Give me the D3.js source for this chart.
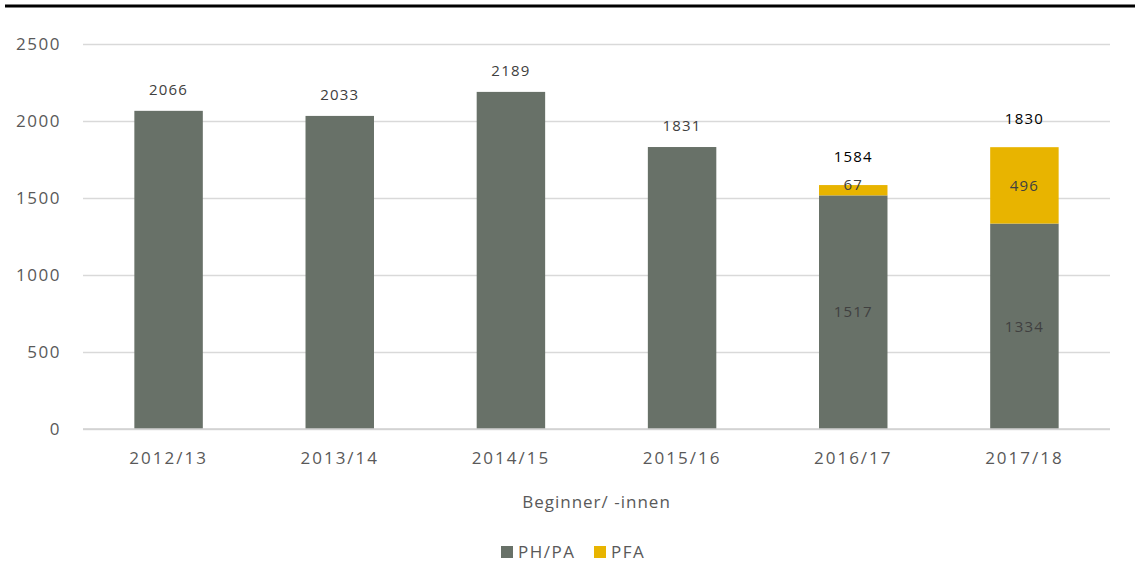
<!DOCTYPE html>
<html><head><meta charset="utf-8">
<script src="https://cdn.jsdelivr.net/npm/d3@7"></script>
<style>
body{margin:0;background:#fff;}
text{font-family:"Open Sans",sans-serif;}
</style></head>
<body><svg id="c" width="1135" height="563"></svg>
<script>
const categories = ["2012/13","2013/14","2014/15","2015/16","2016/17","2017/18"];
const phpa = [2066,2033,2189,1831,1517,1334];
const pfa = [0,0,0,0,67,496];
const totals = [2066,2033,2189,1831,1584,1830];
const yTicks = [0,500,1000,1500,2000,2500];
const seriesNames = ["PH/PA","PFA"];
const colors = ["#687168","#E8B400"];

(function(){
const svg = d3.select("#c");
const mL=83, mR=1110, mT=44, mB=429;
const x = d3.scaleBand().domain(categories).range([mL,mR]).paddingInner(0.6).paddingOuter(0.3);
const y = d3.scaleLinear().domain([0,2500]).range([mB,mT]);

svg.append("line").attr("x1",5).attr("x2",1135).attr("y1",6).attr("y2",6).attr("stroke","#000").attr("stroke-width",3);

const yAxis = d3.axisLeft(y).tickValues(yTicks).tickSize(-(mR-mL)).tickPadding(22).tickFormat(d3.format("d"));
const ga = svg.append("g").attr("transform",`translate(${mL},0)`).call(yAxis);
ga.select(".domain").remove();
ga.selectAll(".tick line").attr("stroke","#d9d9d9").attr("stroke-width",1.5);
ga.selectAll(".tick text").attr("fill","#595959").attr("font-size",17).attr("text-anchor","end").attr("x",-22).attr("dy","0.33em").style("letter-spacing","1.5px");

const stackData = categories.map((c,i)=>({cat:c,PHPA:phpa[i],PFA:pfa[i]}));
const stack = d3.stack().keys(["PHPA","PFA"])(stackData);
stack.forEach((s,si)=>{
  svg.append("g").selectAll("rect").data(s).join("rect")
    .attr("x",d=>x(d.data.cat)).attr("width",x.bandwidth())
    .attr("y",d=>y(d[1])).attr("height",d=>y(d[0])-y(d[1]))
    .attr("fill",colors[si]);
});

svg.append("g").selectAll("text").data(categories).join("text")
  .attr("x",d=>x(d)+x.bandwidth()/2)
  .attr("y",(d,i)=>y(totals[i]) - (pfa[i]>0 ? 28 : 21))
  .attr("dy","0.35em")
  .attr("text-anchor","middle").attr("font-size",15)
  .attr("fill",(d,i)=>pfa[i]>0?"#000":"#404040")
  .style("letter-spacing","1.2px")
  .text((d,i)=>totals[i]);

categories.forEach((c,i)=>{
  if(pfa[i]>0){
    svg.append("text").attr("x",x(c)+x.bandwidth()/2).attr("y",(y(0)+y(phpa[i]))/2).attr("dy","0.35em")
      .attr("text-anchor","middle").attr("font-size",15).attr("fill","#404040").style("letter-spacing","1.2px").text(phpa[i]);
    const my = pfa[i]<100 ? y(phpa[i]+pfa[i]) : (y(phpa[i])+y(phpa[i]+pfa[i]))/2;
    svg.append("text").attr("x",x(c)+x.bandwidth()/2).attr("y",my).attr("dy","0.35em")
      .attr("text-anchor","middle").attr("font-size",15).attr("fill","#404040").style("letter-spacing","1.2px").text(pfa[i]);
  }
});

svg.append("line").attr("x1",mL).attr("x2",mR).attr("y1",mB).attr("y2",mB).attr("stroke","#d0d0d0").attr("stroke-width",1.5);

const xAxis = d3.axisBottom(x).tickSize(0).tickPadding(23);
const gx = svg.append("g").attr("transform",`translate(0,${mB})`).call(xAxis);
gx.select(".domain").remove();
gx.selectAll(".tick text").attr("fill","#595959").attr("font-size",17).style("letter-spacing","2px");

svg.append("text").attr("x",(mL+mR)/2).attr("y",508).attr("text-anchor","middle")
  .attr("font-size",17).attr("fill","#595959").style("letter-spacing","1px").text("Beginner/ -innen");

const leg = svg.append("g");
const legX=[501,594];
seriesNames.forEach((n,i)=>{
  leg.append("rect").attr("x",legX[i]).attr("y",546).attr("width",12).attr("height",12).attr("fill",colors[i]);
  leg.append("text").attr("x",legX[i]+17).attr("y",558).attr("font-size",17).attr("fill","#595959").style("letter-spacing","1.5px").text(n);
});
})();
</script></body></html>
